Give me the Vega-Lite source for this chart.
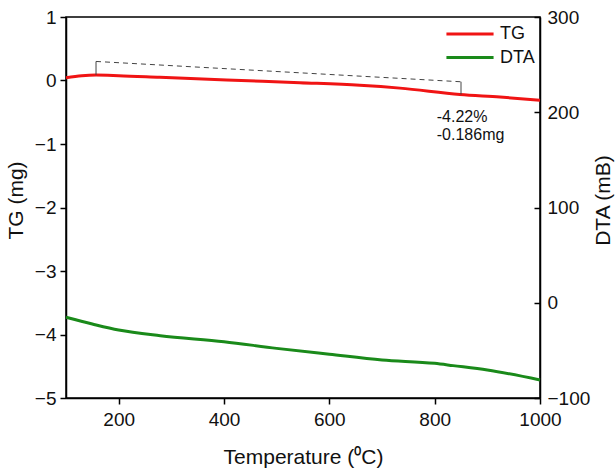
{
  "$schema": "https://vega.github.io/schema/vega-lite/v6.json",
  "width": 474,
  "height": 381,
  "autosize": "none",
  "padding": {"left": 66, "top": 17, "right": 76, "bottom": 70},
  "background": "white",
  "config": {
    "font": "Liberation Sans",
    "view": {"stroke": "black", "strokeWidth": 1.5},
    "axis": {
      "grid": false, "domainColor": "black", "domainWidth": 1.5,
      "tickColor": "black", "tickWidth": 1.5, "tickSize": 6,
      "labelFont": "Liberation Sans", "labelFontSize": 19, "labelColor": "#111", "format": "d",
      "labelFlush": false,
      "titleFont": "Liberation Sans", "titleFontSize": 21, "titleFontWeight": "normal", "titleColor": "#111"
    },
    "axisLeft": {"labelPadding": 4, "titlePadding": 8, "titleY": 183},
    "axisRight": {"tickSize": -6, "labelPadding": 13, "titlePadding": 24, "titleAngle": -90, "titleY": 183},
    "axisBottom": {"labelPadding": 6, "titlePadding": 17}
  },
  "datasets": {
    "tg": [
      {"t": 100, "tg": 0.045}, {"t": 130, "tg": 0.075}, {"t": 157, "tg": 0.085},
      {"t": 200, "tg": 0.076}, {"t": 278, "tg": 0.05}, {"t": 405, "tg": 0.008},
      {"t": 544, "tg": -0.035}, {"t": 658, "tg": -0.075}, {"t": 734, "tg": -0.12},
      {"t": 848, "tg": -0.22}, {"t": 924, "tg": -0.26}, {"t": 1000, "tg": -0.31}
    ],
    "dta": [
      {"t": 100, "dta": -15.3}, {"t": 150, "dta": -22.3}, {"t": 200, "dta": -28.6},
      {"t": 279, "dta": -34.6}, {"t": 400, "dta": -40.9}, {"t": 500, "dta": -47.9},
      {"t": 600, "dta": -54.1}, {"t": 700, "dta": -60.1}, {"t": 800, "dta": -63.6},
      {"t": 835, "dta": -66}, {"t": 900, "dta": -70.6}, {"t": 1000, "dta": -81.1}
    ],
    "bracket": [{"t": 157, "v": 0.30, "t2": 850, "v2": -0.02}],
    "legs": [
      {"t": 157, "v": 0.30, "t2": 157, "v2": 0.087},
      {"t": 850, "v": -0.02, "t2": 850, "v2": -0.22}
    ],
    "ann": [
      {"t": 804, "tg": -0.575, "label": "-4.22%"},
      {"t": 804, "tg": -0.858, "label": "-0.186mg"}
    ]
  },
  "layer": [
    {
      "layer": [
        {
          "data": {"name": "tg"},
          "mark": {"type": "line", "strokeWidth": 3, "interpolate": "monotone"},
          "encoding": {
            "x": {"field": "t", "type": "quantitative", "title": "Temperature (⁰C)",
                  "scale": {"domain": [100, 1000], "nice": false},
                  "axis": {"values": [200, 400, 600, 800, 1000]}},
            "y": {"field": "tg", "type": "quantitative", "title": "TG (mg)",
                  "scale": {"domain": [-5, 1], "nice": false},
                  "axis": {"values": [-5, -4, -3, -2, -1, 0, 1], "orient": "left"}},
            "color": {"datum": "TG", "type": "nominal",
                      "scale": {"domain": ["TG", "DTA"], "range": ["#f01414", "#1a8a1a"]},
                      "legend": {"title": null, "orient": "none", "legendX": 392, "legendY": 5,
                                 "symbolType": "M-2.3,0H2.3", "symbolSize": 420, "symbolStrokeWidth": 3,
                                 "labelFontSize": 18, "labelOffset": 18, "rowPadding": 2.5, "padding": 0,
                                 "labelColor": "#111"}}
          }
        },
        {
          "data": {"name": "bracket"},
          "mark": {"type": "rule", "strokeDash": [5, 4], "color": "#444", "strokeWidth": 1},
          "encoding": {
            "x": {"field": "t", "type": "quantitative", "title": "Temperature (⁰C)"},
            "y": {"field": "v", "type": "quantitative", "title": "TG (mg)"},
            "x2": {"field": "t2"},
            "y2": {"field": "v2"}
          }
        },
        {
          "data": {"name": "legs"},
          "mark": {"type": "rule", "color": "#444", "strokeWidth": 1},
          "encoding": {
            "x": {"field": "t", "type": "quantitative", "title": "Temperature (⁰C)"},
            "y": {"field": "v", "type": "quantitative", "title": "TG (mg)"},
            "x2": {"field": "t2"},
            "y2": {"field": "v2"}
          }
        },
        {
          "data": {"name": "ann"},
          "mark": {"type": "text", "align": "left", "baseline": "middle", "fontSize": 16, "color": "#111", "font": "Liberation Sans"},
          "encoding": {
            "x": {"field": "t", "type": "quantitative", "title": "Temperature (⁰C)"},
            "y": {"field": "tg", "type": "quantitative", "title": "TG (mg)"},
            "text": {"field": "label"}
          }
        }
      ]
    },
    {
      "data": {"name": "dta"},
      "mark": {"type": "line", "strokeWidth": 3, "interpolate": "monotone"},
      "encoding": {
        "x": {"field": "t", "type": "quantitative", "title": "Temperature (⁰C)"},
        "y": {"field": "dta", "type": "quantitative", "title": "DTA (mB)",
              "scale": {"domain": [-100, 300], "nice": false},
              "axis": {"values": [-100, 0, 100, 200, 300], "orient": "right"}},
        "color": {"datum": "DTA", "type": "nominal"}
      }
    }
  ],
  "resolve": {"scale": {"y": "independent"}}
}
